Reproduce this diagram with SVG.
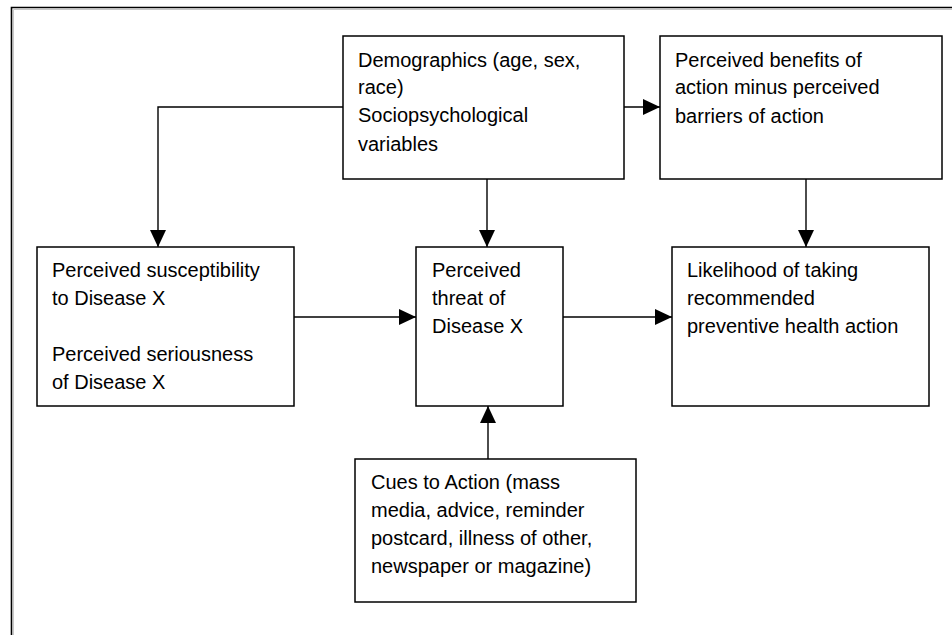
<svg xmlns="http://www.w3.org/2000/svg" width="952" height="635" viewBox="0 0 952 635">
<style>
.box{fill:#fff;stroke:#000;stroke-width:1.5}
.t{font-family:"Liberation Sans",Arial,sans-serif;font-size:20px;fill:#000}
.c{stroke:#000;stroke-width:1.4;fill:none}
.frame{stroke:#000;stroke-width:1.6;fill:none}
.frame2{stroke:#c8c8c8;stroke-width:1;fill:none}
</style>
<defs>
<marker id="ah" viewBox="0 0 17 16" refX="17" refY="8" markerWidth="17" markerHeight="16" markerUnits="userSpaceOnUse" orient="auto">
<path d="M0,0 L17,8 L0,16 Z" fill="#000"/>
</marker>
</defs>
<rect width="952" height="635" fill="#fff"/>
<path class="frame" d="M11.5,635 V7.5 H952"/>
<path class="frame2" d="M13.5,635 V9.5 H952"/>

<g id="connectors">
<path class="c" d="M343,107 H158 V247" marker-end="url(#ah)"/>
<path class="c" d="M487,179 V247" marker-end="url(#ah)"/>
<path class="c" d="M622,107 H660" marker-end="url(#ah)"/>
<path class="c" d="M806,176 V247" marker-end="url(#ah)"/>
<path class="c" d="M292,317 H416" marker-end="url(#ah)"/>
<path class="c" d="M563,317 H672" marker-end="url(#ah)"/>
<path class="c" d="M488,459 V406" marker-end="url(#ah)"/>
</g>

<g id="demographics">
<rect class="box" x="343" y="36" width="281" height="143"/>
<text class="t" x="358" y="67">Demographics (age, sex,</text>
<text class="t" x="358" y="94">race)</text>
<text class="t" x="358" y="122">Sociopsychological</text>
<text class="t" x="358" y="151">variables</text>
</g>

<g id="benefits">
<rect class="box" x="660" y="36" width="282" height="143"/>
<text class="t" x="675" y="67">Perceived benefits of</text>
<text class="t" x="675" y="94">action minus perceived</text>
<text class="t" x="675" y="123">barriers of action</text>
</g>

<g id="susceptibility">
<rect class="box" x="37" y="247" width="257" height="159"/>
<text class="t" x="52" y="277">Perceived susceptibility</text>
<text class="t" x="52" y="305">to Disease X</text>
<text class="t" x="52" y="361">Perceived seriousness</text>
<text class="t" x="52" y="389">of Disease X</text>
</g>

<g id="threat">
<rect class="box" x="416" y="247" width="147" height="159"/>
<text class="t" x="432" y="277">Perceived</text>
<text class="t" x="432" y="305">threat of</text>
<text class="t" x="432" y="333">Disease X</text>
</g>

<g id="likelihood">
<rect class="box" x="672" y="247" width="257" height="159"/>
<text class="t" x="687" y="277">Likelihood of taking</text>
<text class="t" x="687" y="305">recommended</text>
<text class="t" x="687" y="333">preventive health action</text>
</g>

<g id="cues">
<rect class="box" x="355" y="459" width="281" height="143"/>
<text class="t" x="371" y="489">Cues to Action (mass</text>
<text class="t" x="371" y="517">media, advice, reminder</text>
<text class="t" x="371" y="545">postcard, illness of other,</text>
<text class="t" x="371" y="573">newspaper or magazine)</text>
</g>
</svg>
